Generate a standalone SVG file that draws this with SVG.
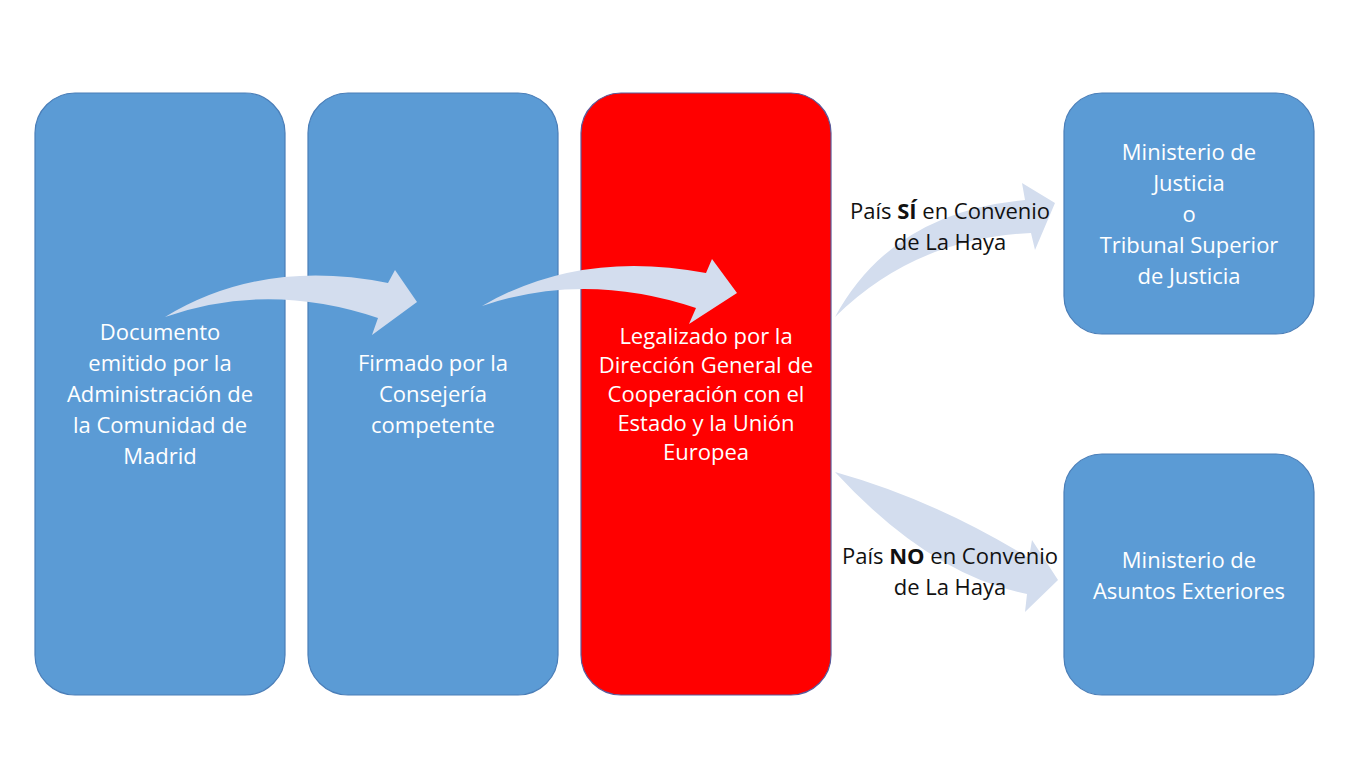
<svg xmlns="http://www.w3.org/2000/svg" width="1366" height="768" viewBox="0 0 1366 768">
<style>
.box{fill:#5B9BD5;stroke:#4A7EB8;stroke-width:1.2}
.red{fill:#FF0000;stroke:#5A5A9A;stroke-width:1.2}
.arr{fill:#D3DDEE}
.t{font-family:"Open Sans","Liberation Sans",sans-serif;font-size:22px;fill:#FFFFFF;text-anchor:middle}
.l{font-family:"Open Sans","Liberation Sans",sans-serif;font-size:22px;fill:#111111;text-anchor:middle}
</style>
<rect width="1366" height="768" fill="#FFFFFF"/>
<g id="node1"><rect class="box" x="35" y="93" width="250" height="602" rx="40" ry="40"/>
<text class="t"><tspan x="160" y="340">Documento</tspan><tspan x="160" y="371">emitido por la</tspan><tspan x="160" y="402">Administración de</tspan><tspan x="160" y="433">la Comunidad de</tspan><tspan x="160" y="464">Madrid</tspan></text></g>
<g id="node2"><rect class="box" x="308" y="93" width="250" height="602" rx="40" ry="40"/>
<text class="t"><tspan x="433" y="371">Firmado por la</tspan><tspan x="433" y="402">Consejería</tspan><tspan x="433" y="433">competente</tspan></text></g>
<g id="node3"><rect class="red" x="581" y="93" width="250" height="602" rx="40" ry="40"/>
<text class="t"><tspan x="706" y="344">Legalizado por la</tspan><tspan x="706" y="373">Dirección General de</tspan><tspan x="706" y="402">Cooperación con el</tspan><tspan x="706" y="431">Estado y la Unión</tspan><tspan x="706" y="460">Europea</tspan></text></g>
<g id="node4"><rect class="box" x="1064" y="93" width="250" height="241" rx="38" ry="38"/>
<text class="t"><tspan x="1189" y="160">Ministerio de</tspan><tspan x="1189" y="191">Justicia</tspan><tspan x="1189" y="222">o</tspan><tspan x="1189" y="253">Tribunal Superior</tspan><tspan x="1189" y="284">de Justicia</tspan></text></g>
<g id="node5"><rect class="box" x="1064" y="454" width="250" height="241" rx="38" ry="38"/>
<text class="t"><tspan x="1189" y="568">Ministerio de</tspan><tspan x="1189" y="599">Asuntos Exteriores</tspan></text></g>
<g id="connectors">
<path class="arr" d="M165,317 Q262,258 388,283 L395,270 L417,302 L372,335 L378,318 Q268,281 165,317 Z"/>
<path class="arr" d="M482,306 Q580,249 706,273 L712,259 L737,293 L689,324 L696,308 Q585,271 482,306 Z"/>
<path class="arr" d="M835,317 Q892,212 1025,200 L1022,183 L1055,203 L1035,250 L1031,233 Q915,238 835,317 Z"/>
<path class="arr" d="M835,472 Q935,500 1029,558 L1032,540 L1058,580 L1025,612 L1027,594 Q930,575 835,472 Z"/>
</g>
<g id="labels">
<text class="l"><tspan x="950" y="219">País <tspan font-weight="bold">SÍ</tspan> en Convenio</tspan><tspan x="950" y="250">de La Haya</tspan></text>
<text class="l"><tspan x="950" y="564">País <tspan font-weight="bold">NO</tspan> en Convenio</tspan><tspan x="950" y="595">de La Haya</tspan></text>
</g>
</svg>
